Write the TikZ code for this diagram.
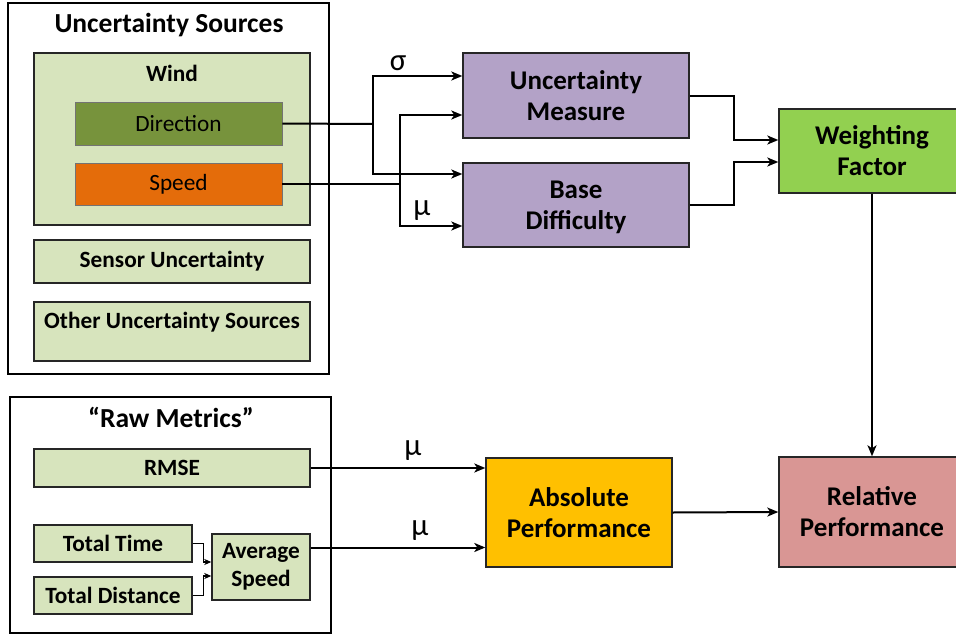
\documentclass[tikz,border=0pt]{standalone}
\usepackage{fontspec}
\setmainfont{Carlito}
\usetikzlibrary{arrows.meta}
\definecolor{lgreen}{HTML}{D7E4BD}
\definecolor{dirgreen}{HTML}{77933C}
\definecolor{spdorange}{HTML}{E46C0A}
\definecolor{purp}{HTML}{B3A2C7}
\definecolor{wgreen}{HTML}{92D050}
\definecolor{gold}{HTML}{FFC000}
\definecolor{pink}{HTML}{D99694}
\begin{document}
\begin{tikzpicture}[x=1pt,y=-1pt,
  frame/.style={draw=black, line width=1.2pt, inner sep=0pt},
  box/.style={draw=black!85, line width=1.4pt, inner sep=0pt, align=center},
  item/.style={box, fill=lgreen, font=\fontsize{23.3}{28}\selectfont\bfseries},
  sub/.style={box, draw=black!55, line width=0.8pt, font=\fontsize{23.3}{28}\selectfont},
  big/.style={box, font=\fontsize{27}{31}\selectfont\bfseries},
  ttl/.style={inner sep=0pt, font=\fontsize{27.5}{31}\selectfont\bfseries},
  ttlsmall/.style={inner sep=0pt, font=\fontsize{23.3}{28}\selectfont\bfseries},
  greek/.style={inner sep=0pt, font=\fontsize{31}{34}\selectfont},
  wire/.style={line width=2pt},
  arr/.style={wire, -{Stealth[length=11pt,width=9pt,inset=3pt]}},
  sarr/.style={line width=1.3pt, -{Stealth[length=7pt,width=6pt,inset=2pt]}}
]
\useasboundingbox (0,0) rectangle (956,637);

% outer frames
\node[frame, minimum width=321pt, minimum height=371pt] (usrc) at (168.5,188.5) {};
\node[frame, minimum width=321pt, minimum height=236pt] (raw) at (170.5,515) {};
\node[ttl] (usrct) at (169,25) {Uncertainty Sources};
\node[ttl] (rawt) at (171,417) {“Raw Metrics”};

% uncertainty sources
\node[item, minimum width=276pt, minimum height=172pt] (wind) at (172,139) {};
\node[ttlsmall] (windt) at (172,73) {Wind};
\node[sub, fill=dirgreen, minimum width=207pt, minimum height=43pt] (dir) at (178.5,123.5) {Direction};
\node[sub, fill=spdorange, minimum width=207pt, minimum height=42pt] (spd) at (178.5,184) {Speed};
\node[item, minimum width=276pt, minimum height=43pt] (sens) at (172,261.5) {Sensor Uncertainty};
\node[item, minimum width=276pt, minimum height=59pt] (oth) at (172,331.5) {};
\node[ttlsmall] (otht) at (172,322) {Other Uncertainty Sources};

% raw metrics
\node[item, minimum width=276pt, minimum height=38pt] (rmse) at (172,468) {RMSE};
\node[item, minimum width=158pt, minimum height=37pt] (ttime) at (113,543.5) {Total Time};
\node[item, minimum width=158pt, minimum height=37pt] (tdist) at (113,595.5) {Total Distance};
\node[item, minimum width=98pt, minimum height=66pt] (avg) at (261,567) {Average\\Speed};

% main blocks
\node[big, fill=purp, minimum width=226pt, minimum height=85pt] (um) at (576,95.5) {Uncertainty\\Measure};
\node[big, fill=purp, minimum width=226pt, minimum height=84pt] (bd) at (576,205) {\strut Base\\Difficulty};
\node[big, fill=wgreen, minimum width=186pt, minimum height=84pt] (wf) at (872,151) {Weighting\\Factor};
\node[big, fill=gold, minimum width=186pt, minimum height=109pt] (ap) at (579,512.5) {Absolute\\Performance};
\node[big, fill=pink, minimum width=186pt, minimum height=110pt] (rp) at (872,512) {Relative\\Performance};

% connectors: wind to purple blocks
\coordinate (sj) at (373,124);
\coordinate (mj) at (400,184);
\draw[wire] (dir.east) -- (sj);
\draw[arr] (sj) |- ([yshift=19.5pt]um.west);
\draw[arr] (sj) |- ([yshift=31pt]bd.west);
\draw[wire] (spd.east) -- (mj);
\draw[arr] (mj) |- ([yshift=-19.5pt]um.west);
\draw[arr] (mj) |- ([yshift=-21pt]bd.west);
\node[greek] (sig) at (398,63) {σ};
\node[greek] (mu1) at (422,211) {μ};

% purple to weighting factor
\draw[arr] (um.east) -- ++(44,0) |- ([yshift=11pt]wf.west);
\draw[arr] (bd.east) -- ++(44,0) |- ([yshift=-11pt]wf.west);
\draw[arr] (wf.south) -- (rp.north);

% raw metrics to absolute performance
\draw[arr] (rmse.east) -- (rmse.east -| ap.west);
\coordinate (ae) at ([yshift=19.5pt]avg.east);
\draw[arr] (ae) -- (ae -| ap.west);
\node[greek] (mu2) at (413,451) {μ};
\node[greek] (mu3) at (420,531) {μ};
\draw[arr] (ap.east) -- (rp.west);

% total time / distance to average speed
\draw[sarr] (ttime.east) -- ++(11,0) |- ([yshift=5pt]avg.west);
\draw[sarr] (tdist.east) -- ++(11,0) |- ([yshift=-9pt]avg.west);
\end{tikzpicture}
\end{document}
